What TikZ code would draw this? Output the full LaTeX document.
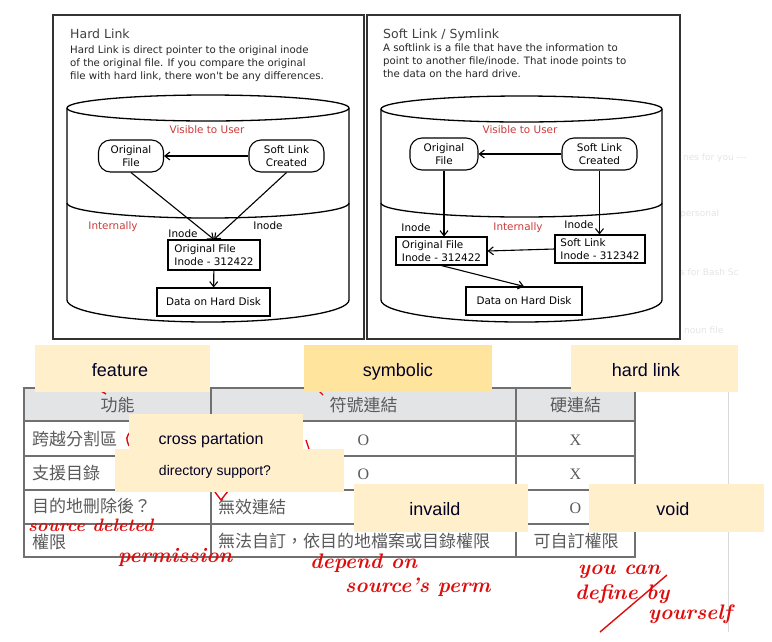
\documentclass[tikz,border=0pt]{standalone}
\usepackage{fontspec}
\newfontfamily\diafont{DejaVu Sans}
\newfontfamily\notefont{Liberation Sans}
\newfontfamily\cjkfont{Noto Sans CJK TC}
\newfontfamily\oxfont{Liberation Serif}
\usetikzlibrary{arrows.meta}
\definecolor{notey}{HTML}{FFF0CB}
\definecolor{notedark}{HTML}{FFE49E}
\definecolor{redlbl}{HTML}{CC3B3B}
\definecolor{pen}{HTML}{E00C0C}
\definecolor{gridgray}{HTML}{707070}
\definecolor{headgray}{HTML}{E3E4E6}
\definecolor{celltxt}{HTML}{5A5A5A}
\begin{document}
\begin{tikzpicture}[x=1pt, y=-1pt,
    arr/.style={-{Straight Barb[length=5pt,width=8pt]}, line width=1.1pt},
    rbox/.style={draw, line width=1.1pt, rounded corners=12pt, align=center, inner sep=0pt,
        minimum height=32pt, font=\diafont\fontsize{10.4}{12.4}\selectfont},
    ibox/.style={draw, line width=1.1pt, align=left, inner sep=0pt,
        minimum height=28pt, font=\diafont\fontsize{10.4}{12.4}\selectfont},
    lbl/.style={font=\diafont\fontsize{10.4}{12}\selectfont, inner sep=0pt},
    redlbl/.style={lbl, text=redlbl},
    cyl/.style={line width=1.3pt},
    cell/.style={font=\cjkfont\fontsize{17}{20}\selectfont, text=celltxt, inner sep=0pt},
    ox/.style={font=\oxfont\fontsize{16}{18}\selectfont, text=celltxt, inner sep=0pt},
    notetxt/.style={font=\notefont\fontsize{18}{20}\selectfont, text=black!85!blue, inner sep=0pt, anchor=base},
    hand/.style={font=\bfseries\itshape\fontsize{21}{24}\selectfont, text=pen, inner sep=0pt, anchor=base west},
    faint/.style={font=\diafont\fontsize{9}{11}\selectfont, text=black!10, inner sep=0pt, anchor=west}]
    \useasboundingbox (0,0) rectangle (772,641);
    \fill[white] (0,0) rectangle (772,641);

    % faint page behind the screenshot
    \node[faint] (bg1) at (683,158) {nes for you ---};
    \node[faint] (bg2) at (680,214) {personal};
    \node[faint] (bg3) at (680,272) {s for Bash Sc};
    \node[faint] (bg4) at (684,330) {noun file};
    \draw[black!15] (728,390) -- (728,632);

    % panel frames
    \draw[line width=1.3pt, black!80] (53,15) rectangle (364,339);
    \draw[line width=1.3pt, black!80] (367,15) rectangle (680,339);

    % ---------- hard link ----------
    \node[font=\diafont\fontsize{12.5}{14}\selectfont, text=black!75, anchor=base west, inner sep=0pt] (hTitle) at (70,38) {Hard Link};
    \node[font=\diafont\fontsize{10.2}{12.8}\selectfont, text=black!85, anchor=north west, align=left, inner sep=0pt] (hText) at (70,45.5)
        {Hard Link is direct pointer to the original inode\\of the original file. If you compare the original\\file with hard link, there won't be any differences.};
    \draw[cyl] (208,108) ellipse [x radius=141, y radius=13];
    \draw[cyl] (67,108) -- (67,300) arc[start angle=180, end angle=0, x radius=141, y radius=22] -- (349,108);
    \draw[cyl] (67,203) arc[start angle=180, end angle=0, x radius=141, y radius=15];
    \node[redlbl] (hVis) at (207,130) {Visible to User};
    \node[redlbl] (hInt) at (113,227) {Internally};
    \node[rbox, minimum width=65pt] (hOrig) at (131,156) {Original\\File};
    \node[rbox, minimum width=75pt] (hSoft) at (286.5,156) {Soft Link\\Created};
    \node[ibox, minimum width=92pt, minimum height=30pt] (hIno) at (214,255) {Original File\\Inode - 312422};
    \node[ibox, minimum width=113pt] (hData) at (213.5,302) {Data on Hard Disk};
    \node[lbl] (hLab1) at (183,234) {Inode};
    \node[lbl] (hLab2) at (268,226) {Inode};
    \draw[arr] (hSoft) -- (hOrig);
    \draw[arr] (hOrig.south) -- (hIno.north);
    \draw[arr] (hSoft.south) -- (hIno.north);
    \draw[arr] (hIno) -- (hData);

    % ---------- soft link ----------
    \node[font=\diafont\fontsize{12.5}{14}\selectfont, text=black!75, anchor=base west, inner sep=0pt] (sTitle) at (383,38) {Soft Link / Symlink};
    \node[font=\diafont\fontsize{10.2}{12.8}\selectfont, text=black!85, anchor=north west, align=left, inner sep=0pt] (sText) at (383,43.5)
        {A softlink is a file that have the information to\\point to another file/inode. That inode points to\\the data on the hard drive.};
    \draw[cyl] (521.5,109) ellipse [x radius=140.5, y radius=13];
    \draw[cyl] (381,109) -- (381,300) arc[start angle=180, end angle=0, x radius=140.5, y radius=22] -- (662,109);
    \draw[cyl] (381,203) arc[start angle=180, end angle=0, x radius=140.5, y radius=14];
    \node[redlbl] (sVis) at (520,130) {Visible to User};
    \node[redlbl] (sInt) at (518,228) {Internally};
    \node[rbox, minimum width=68pt] (sOrig) at (444,154) {Original\\File};
    \node[rbox, minimum width=75pt] (sSoft) at (599.5,154) {Soft Link\\Created};
    \node[ibox, minimum width=91pt] (sIno) at (441.5,251) {Original File\\Inode - 312422};
    \node[ibox, minimum width=90pt] (sSlk) at (600,249) {Soft Link\\Inode - 312342};
    \node[ibox, minimum width=116pt] (sData) at (524,301) {Data on Hard Disk};
    \node[lbl] (sLab1) at (416,228) {Inode};
    \node[lbl] (sLab2) at (579,225) {Inode};
    \draw[arr] (sSoft) -- (sOrig);
    \draw[arr] (sOrig.south) -- (sOrig.south |- sIno.north);
    \draw[arr] (sSoft.south) -- (sSoft.south |- sSlk.north);
    \draw[arr] (sSlk.west) -- (sIno.east);
    \draw[arr] (sIno.south) -- (sData.north);

    % ---------- table ----------
    \fill[headgray] (24,388) rectangle (635,421);
    \draw[gridgray, line width=1.6pt] (24,388) rectangle (635,557);
    \foreach \y in {421,456,490,524}
        \draw[gridgray, line width=1.5pt] (24,\y) -- (635,\y);
    \foreach \x in {211,516}
        \draw[gridgray, line width=1.5pt] (\x,388) -- (\x,557);
    \node[cell] (h1) at (117.5,405) {功能};
    \node[cell] (h2) at (363.5,405) {符號連結};
    \node[cell] (h3) at (575.5,405) {硬連結};
    \node[cell, anchor=west] (r1) at (32,439) {跨越分割區};
    \node[cell, anchor=west] (r2) at (32,473) {支援目錄};
    \node[cell, anchor=west] (r3) at (32,506) {目的地刪除後？};
    \node[cell, anchor=west] (r4) at (32,542) {權限};
    \node[ox] (c12) at (363.5,440) {O};
    \node[ox] (c13) at (575.5,440) {X};
    \node[ox] (c22) at (363.5,474) {O};
    \node[ox] (c23) at (575.5,474) {X};
    \node[cell, anchor=west] (c32) at (218,507) {無效連結};
    \node[ox] (c33) at (575.5,508) {O};
    \node[cell, anchor=west] (c42) at (218,541) {無法自訂，依目的地檔案或目錄權限};
    \node[cell] (c43) at (576,541) {可自訂權限};

    % ---------- red pen ----------
    \draw[pen, line width=1.4pt] (215,492) -- (221,500) -- (232,486);
    \draw[pen, line width=1.4pt] (130,432) .. controls (126,438) .. (129,446);
    \draw[pen, line width=1.4pt] (118,476) -- (116,488);
    \draw[pen, line width=1.4pt] (101,391) -- (106,394);
    \draw[pen, line width=1.4pt] (318,390) -- (323,395);
    \draw[pen, line width=1.4pt] (306,440) -- (310,452);
    \node[hand, font=\bfseries\itshape\fontsize{18}{20}\selectfont] (pSrc) at (28,531) {source deleted};
    \node[hand] (pPerm) at (118,562) {permission};
    \node[hand] (pDep) at (310,568) {depend on};
    \node[hand] (pSrcp) at (345,592) {source's perm};
    \node[hand] (pYou) at (578,574) {you can};
    \node[hand] (pDef) at (575,599) {define by};
    \node[hand] (pSelf) at (648,619) {yourself};
    \draw[pen, line width=1.4pt] (600,632) -- (667,575);

    % ---------- sticky notes ----------
    \fill[notey] (35,345) rectangle (210,392);
    \node[notetxt] (nFeat) at (120,376) {feature};
    \fill[notedark] (304,345) rectangle (492,392);
    \node[notetxt] (nSym) at (398,376) {symbolic};
    \fill[notey] (571,345) rectangle (738,392);
    \node[notetxt] (nHard) at (646,376) {hard link};
    \fill[notey] (129,414) rectangle (303,452);
    \node[notetxt, font=\notefont\fontsize{16}{18}\selectfont] (nCross) at (211,444.5) {cross partation};
    \fill[notey] (115,449) rectangle (344,492);
    \node[notetxt, font=\notefont\fontsize{14}{16}\selectfont] (nDir) at (215,475) {directory support?};
    \fill[notey] (354,484) rectangle (528,532);
    \node[notetxt] (nInv) at (435,515.5) {invaild};
    \fill[notey] (589,484) rectangle (764,532);
    \node[notetxt] (nVoid) at (673,515.5) {void};
\end{tikzpicture}
\end{document}
